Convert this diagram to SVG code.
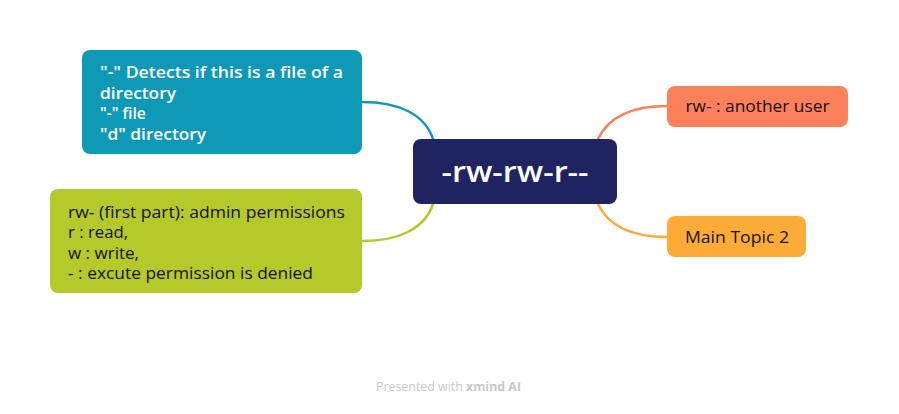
<svg xmlns="http://www.w3.org/2000/svg" width="899" height="414" viewBox="0 0 899 414">
<style>
.n{font-family:"Open Sans","Liberation Sans",sans-serif;font-size:15.5px}
.w{fill:#ffffff;font-weight:600}
.b{fill:#111111;font-weight:400}
.c{fill:none;stroke-width:2.5;stroke-linecap:round}
</style>
<rect width="899" height="414" fill="#ffffff"/>
<g id="connectors">
<path class="c" stroke="#0e9ab6" d="M362,102 C400,102 425,115 433,139"/>
<path class="c" stroke="#b5c92a" d="M362,241 C400,241 425,228 433,204"/>
<path class="c" stroke="#fc8059" d="M598,139 C608,118 630,106 667,106"/>
<path class="c" stroke="#ffab38" d="M598,204 C608,225 630,237 667,237"/>
</g>
<g id="central">
<rect x="413" y="139" width="204" height="65" rx="8" fill="#1f2460"/>
<text x="515" y="182" text-anchor="middle" textLength="147" lengthAdjust="spacingAndGlyphs" style="font-family:'Open Sans','Liberation Sans',sans-serif;font-size:28px;font-weight:600;fill:#ffffff">-rw-rw-r--</text>
</g>
<g id="node-type">
<rect x="82" y="50" width="280" height="104" rx="8" fill="#0e9ab6"/>
<text class="n w" x="100" y="78" textLength="243" lengthAdjust="spacingAndGlyphs">"-" Detects if this is a file of a</text>
<text class="n w" x="100" y="98.5" textLength="76" lengthAdjust="spacingAndGlyphs">directory</text>
<text class="n w" x="100" y="119">"-" file</text>
<text class="n w" x="100" y="139.5" textLength="106" lengthAdjust="spacingAndGlyphs">"d" directory</text>
</g>
<g id="node-admin">
<rect x="50" y="189" width="312" height="104" rx="8" fill="#b5c92a"/>
<text class="n b" x="68" y="217.5" textLength="277" lengthAdjust="spacingAndGlyphs">rw- (first part): admin permissions</text>
<text class="n b" x="68" y="238" textLength="60" lengthAdjust="spacingAndGlyphs">r : read,</text>
<text class="n b" x="68" y="258.5" textLength="71" lengthAdjust="spacingAndGlyphs">w : write,</text>
<text class="n b" x="68" y="279" textLength="245" lengthAdjust="spacingAndGlyphs">- : excute permission is denied</text>
</g>
<g id="node-user">
<rect x="667" y="86" width="181" height="41" rx="8" fill="#fc8059"/>
<text class="n b" x="757.5" y="112" text-anchor="middle" textLength="144" lengthAdjust="spacingAndGlyphs">rw- : another user</text>
</g>
<g id="node-topic2">
<rect x="667" y="216" width="139" height="41" rx="8" fill="#ffab38"/>
<text class="n b" x="737" y="243" text-anchor="middle" textLength="104" lengthAdjust="spacingAndGlyphs">Main Topic 2</text>
</g>
<text x="448.5" y="391" text-anchor="middle" textLength="145" lengthAdjust="spacingAndGlyphs" style="font-family:'Open Sans','Liberation Sans',sans-serif;font-size:12px;fill:#c8c8c8">Presented with <tspan font-weight="700">xmind AI</tspan></text>
</svg>
